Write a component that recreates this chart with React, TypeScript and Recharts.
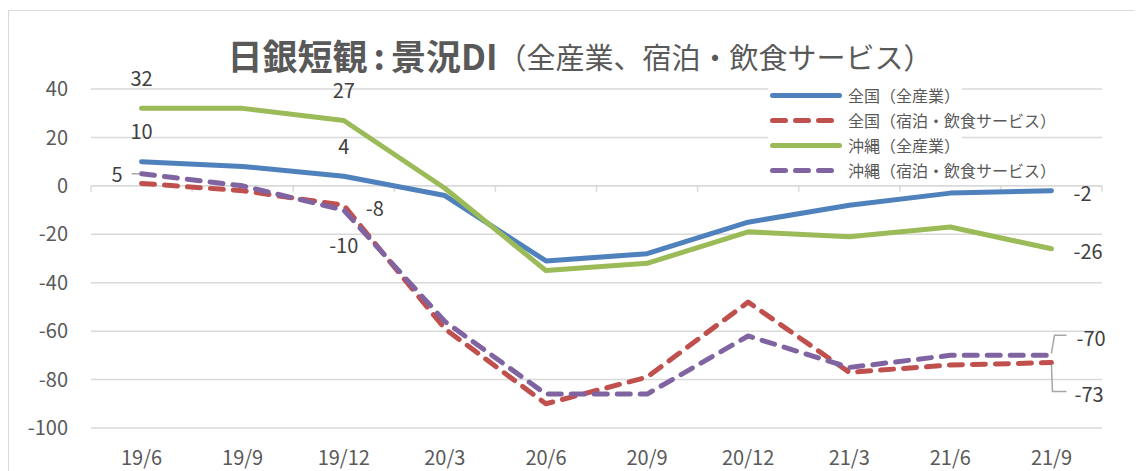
import { CartesianGrid, LabelList, Legend, Line, LineChart, ReferenceLine, XAxis, YAxis } from 'recharts';

const periods = ['19/6', '19/9', '19/12', '20/3', '20/6', '20/9', '20/12', '21/3', '21/6', '21/9'];
const zenkokuAll = [10, 8, 4, -4, -31, -28, -15, -8, -3, -2];
const zenkokuHotel = [1, -2, -8, -59, -90, -79, -48, -77, -74, -73];
const okinawaAll = [32, 32, 27, -1, -35, -32, -19, -21, -17, -26];
const okinawaHotel = [5, 0, -10, -56, -86, -86, -62, -75, -70, -70];
const yTicks = [40, 20, 0, -20, -40, -60, -80, -100];

type Place = 'above' | 'below' | 'left' | 'right' | 'rightUp' | 'rightDown';

const series = [
  { key: 'zenkokuAll', name: '全国（全産業）', color: '#4F81BD', dashed: false, labels: { 0: 'above', 2: 'above', 9: 'right' } },
  { key: 'zenkokuHotel', name: '全国（宿泊・飲食サービス）', color: '#C0504D', dashed: true, labels: { 2: 'right', 9: 'rightDown' } },
  { key: 'okinawaAll', name: '沖縄（全産業）', color: '#9BBB59', dashed: false, labels: { 0: 'above', 2: 'above', 9: 'right' } },
  { key: 'okinawaHotel', name: '沖縄（宿泊・飲食サービス）', color: '#8064A2', dashed: true, labels: { 0: 'left', 2: 'below', 9: 'rightUp' } },
] as { key: string; name: string; color: string; dashed: boolean; labels: Record<number, Place> }[];

const chartData = periods.map((period, i) => ({
  period,
  zenkokuAll: zenkokuAll[i],
  zenkokuHotel: zenkokuHotel[i],
  okinawaAll: okinawaAll[i],
  okinawaHotel: okinawaHotel[i],
}));

const FONT = '"Noto Sans CJK JP", "Noto Sans", sans-serif';
const GRID = '#d9d9d9';
const LEADER = '#a6a6a6';
const DASH = '13 10';

const W = 1134;
const H = 463;
const MARGIN = { top: 81, right: 40, bottom: 0, left: 23 };
const Y_WIDTH = 60;
// half a category band on each side, so points sit in the middle of each band
const HALF_BAND = (W - MARGIN.left - MARGIN.right - Y_WIDTH) / periods.length / 2;

function renderLabel(props: any, places: Record<number, Place>) {
  const { x, y, value, index } = props;
  const place = places[index];
  if (!place || x == null || y == null) return null;
  const common = { fontSize: 20, fill: '#404040', dominantBaseline: 'central' as const, fontFamily: FONT };
  if (place === 'above')
    return <text x={x} y={y - 31} textAnchor="middle" {...common}>{value}</text>;
  if (place === 'below')
    return <text x={x} y={y + 34} textAnchor="middle" {...common}>{value}</text>;
  if (place === 'right')
    return <text x={x + 22} y={y + 2} textAnchor="start" {...common}>{value}</text>;
  if (place === 'left')
    return (
      <g>
        <line x1={x - 10} y1={y} x2={x - 2} y2={y} stroke={LEADER} strokeWidth={1.5} />
        <text x={x - 19} y={y} textAnchor="end" {...common}>{value}</text>
      </g>
    );
  if (place === 'rightUp')
    return (
      <g>
        <path d={`M${x},${y - 2}L${x + 3},${y - 20}L${x + 15},${y - 20}`} fill="none" stroke={LEADER} strokeWidth={1.5} />
        <text x={x + 25} y={y - 18} textAnchor="start" {...common}>{value}</text>
      </g>
    );
  return (
    <g>
      <path d={`M${x},${y + 2}L${x + 1},${y + 29}L${x + 15},${y + 29}`} fill="none" stroke={LEADER} strokeWidth={1.5} />
      <text x={x + 23} y={y + 31} textAnchor="start" {...common}>{value}</text>
    </g>
  );
}

function ZeroAxis(props: any) {
  const { x1, y1, x2 } = props;
  const step = (x2 - x1) / periods.length;
  return (
    <g>
      <line x1={x1} y1={y1} x2={x2} y2={y1} stroke={GRID} strokeWidth={1.5} />
      {Array.from({ length: periods.length + 1 }, (_, i) => (
        <line key={i} x1={x1 + i * step} x2={x1 + i * step} y1={y1} y2={y1 + 6} stroke={GRID} strokeWidth={1.5} />
      ))}
    </g>
  );
}

function LegendBox() {
  return (
    <div style={{ fontFamily: FONT }}>
      {series.map((s) => (
        <div
          key={s.key}
          style={{ display: 'flex', alignItems: 'center', height: 25, background: '#fff', width: 'fit-content', paddingLeft: 2, paddingRight: 2 }}
        >
          <svg width={72} height={25} style={{ display: 'block' }}>
            <line
              x1={2.5}
              x2={69.5}
              y1={12.5}
              y2={12.5}
              stroke={s.color}
              strokeWidth={5}
              strokeLinecap="round"
              strokeDasharray={s.dashed ? DASH : undefined}
            />
          </svg>
          <span style={{ fontSize: 16, color: '#595959', marginLeft: 6, whiteSpace: 'nowrap', lineHeight: '25px' }}>{s.name}</span>
        </div>
      ))}
    </div>
  );
}

export default function App() {
  return (
    <div style={{ position: 'relative', width: W, height: H, overflow: 'hidden', fontFamily: FONT, background: '#fff' }}>
      <div style={{ position: 'absolute', left: 0, top: 2, width: 1300, height: 600, border: `1.5px solid ${GRID}`, boxSizing: 'border-box' }} />
      <div style={{ position: 'absolute', left: 0, top: 0 }}>
        <LineChart width={W} height={H} data={chartData} margin={MARGIN}>
          <CartesianGrid vertical={false} stroke={GRID} strokeWidth={1.5} />
          <XAxis
            dataKey="period"
            axisLine={false}
            tickLine={false}
            interval={0}
            height={43}
            tickMargin={17}
            padding={{ left: HALF_BAND, right: HALF_BAND }}
            tick={{ fontSize: 20, fill: '#595959', fontFamily: FONT }}
          />
          <YAxis
            domain={[-100, 40]}
            ticks={yTicks}
            axisLine={false}
            tickLine={false}
            width={Y_WIDTH}
            tickMargin={17}
            tick={{ fontSize: 20, fill: '#595959', fontFamily: FONT }}
          />
          <ReferenceLine y={0} shape={ZeroAxis} />
          <Legend
            layout="vertical"
            align="center"
            verticalAlign="middle"
            wrapperStyle={{ top: 74.5, left: 760, width: 'auto' }}
            content={() => <LegendBox />}
          />
          {series.map((s) => (
            <Line
              key={s.key}
              type="linear"
              dataKey={s.key}
              name={s.name}
              stroke={s.color}
              strokeWidth={5}
              strokeLinecap="round"
              strokeLinejoin="round"
              strokeDasharray={s.dashed ? DASH : undefined}
              dot={false}
              activeDot={false}
              isAnimationActive={false}
            >
              <LabelList dataKey={s.key} content={(p: any) => renderLabel(p, s.labels)} />
            </Line>
          ))}
        </LineChart>
      </div>
      <div
        style={{
          position: 'absolute',
          left: 0,
          top: 29,
          width: 1144,
          height: 36,
          textAlign: 'center',
          color: '#595959',
          lineHeight: '36px',
          whiteSpace: 'nowrap',
        }}
      >
        <span style={{ display: 'inline-block', verticalAlign: 'top', height: 36, lineHeight: '36px', fontSize: 35, fontWeight: 700 }}>
          日銀短観<span style={{ margin: '0 6px' }}>:</span>景況DI
        </span>
        <span style={{ display: 'inline-block', verticalAlign: 'top', height: 36, lineHeight: '38px', fontSize: 29 }}>
          （全産業、宿泊・飲食サービス）
        </span>
      </div>
    </div>
  );
}
